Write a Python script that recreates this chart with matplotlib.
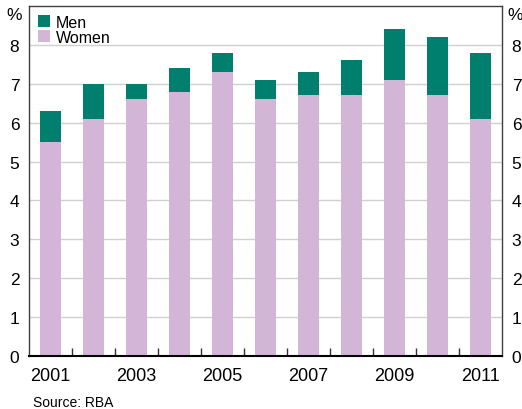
import numpy as np
import matplotlib
matplotlib.use("Agg")
import matplotlib.pyplot as plt

plt.rcParams["font.family"] = ["Liberation Sans", "DejaVu Sans"]

years = [2001, 2002, 2003, 2004, 2005, 2006, 2007, 2008, 2009, 2010, 2011]
women = [5.5, 6.1, 6.6, 6.8, 7.3, 6.6, 6.7, 6.7, 7.1, 6.7, 6.1]
men = [0.8, 0.9, 0.4, 0.6, 0.5, 0.5, 0.6, 0.9, 1.3, 1.5, 1.7]
year_labels = ["2001", "", "2003", "", "2005", "", "2007", "", "2009", "", "2011"]

MEN_C = "#007f6e"
WOMEN_C = "#d3b5d7"

fig = plt.figure(figsize=(5.22, 4.10), dpi=100)
ax = fig.add_axes([29 / 522, 1 - 357 / 410, 473 / 522, 350 / 410])

x = np.arange(len(years))
ax.bar(x, men, bottom=women, width=0.51, color=MEN_C, label="Men", zorder=2)
ax.bar(x, women, width=0.51, color=WOMEN_C, label="Women", zorder=2)

ax.set_xlim(-0.5, len(years) - 0.5)
ax.set_ylim(0, 9)
ax.set_yticks(range(0, 9))
ax.yaxis.grid(True, color="#d0d0d0", linewidth=1.0, zorder=0)
ax.tick_params(axis="y", length=0, labelsize=12.5, pad=7,
               labelright=True, right=False)

ax.set_xticks(x)
ax.set_xticklabels(year_labels)
ax.set_xticks(np.arange(0.5, len(years) - 0.5, 1.0), minor=True)
ax.tick_params(axis="x", which="major", length=0, labelsize=13, pad=8)
ax.tick_params(axis="x", which="minor", direction="in", length=6,
               width=1, color="#333333")

for s in ["left", "right", "top"]:
    ax.spines[s].set_color("#404040")
    ax.spines[s].set_linewidth(1.0)
ax.spines["bottom"].set_color("black")
ax.spines["bottom"].set_linewidth(1.5)

fig.text(14 / 522, 1 - 16 / 410, "%", fontsize=12.5, ha="center", va="center")
fig.text(515 / 522, 1 - 16 / 410, "%", fontsize=12.5, ha="center", va="center")

h, l = ax.get_legend_handles_labels()
ax.legend(h, l, loc="upper left", frameon=False, fontsize=11.5,
          handlelength=0.75, handleheight=0.75, handletextpad=0.4,
          labelspacing=0.0, borderaxespad=0.3, borderpad=0.25)

fig.text(33 / 522, 1 - 403 / 410, "Source: RBA", fontsize=10,
         ha="left", va="center")

fig.savefig("out.png", dpi=100)
